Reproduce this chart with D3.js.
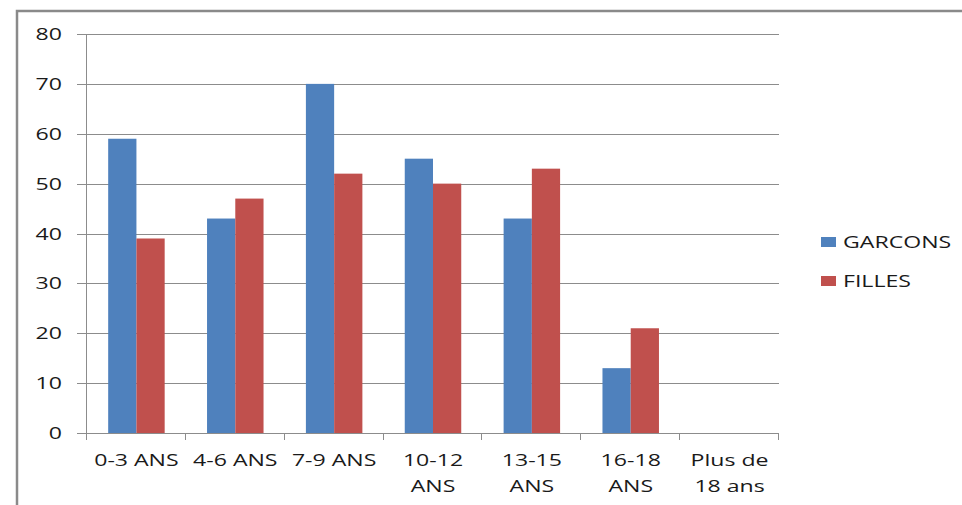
<!DOCTYPE html>
<html><head><meta charset="utf-8">
<script src="https://cdn.jsdelivr.net/npm/d3@7"></script>
<style>body{margin:0;background:#fff;}svg{display:block;font-family:"Open Sans",sans-serif;}</style>
</head><body>
<svg id="c" width="962" height="505"></svg>
<script>
const categories = ["0-3 ANS","4-6 ANS","7-9 ANS","10-12 ANS","13-15 ANS","16-18 ANS","Plus de 18 ans"];
const garcons = [59,43,70,55,43,13,0];
const filles  = [39,47,52,50,53,21,0];
const seriesNames = ["GARCONS","FILLES"];
const seriesColors = ["#4F81BD","#C0504D"];
const yTicks = [0,10,20,30,40,50,60,70,80];

(function(){
const SX = 1.4, FS = 16.5;
const svg = d3.select("#c");
const pL = 87, pR = 779, pT = 34, pB = 433;

// outer border
svg.append("rect").attr("x",17).attr("y",11).attr("width",1000).attr("height",600)
  .attr("fill","none").attr("stroke","#8a8a8a").attr("stroke-width",2.5);

const x = d3.scaleBand().domain(categories).range([pL,pR]).paddingInner(0).paddingOuter(0);
const bw = x.bandwidth()/3.5;
const y = d3.scaleLinear().domain([0,80]).range([pB,pT]);

// gridlines
svg.append("g").selectAll("line").data(yTicks).join("line")
  .attr("x1",pL-10).attr("x2",pR).attr("y1",d=>Math.round(y(d))+0.5).attr("y2",d=>Math.round(y(d))+0.5)
  .attr("stroke","#8c8c8c").attr("stroke-width",1);
// y axis line
svg.append("line").attr("x1",pL-0.5).attr("x2",pL-0.5).attr("y1",pT).attr("y2",pB+1)
  .attr("stroke","#8c8c8c");

function stext(g, px, py, str, anchor){
  const gg = g.append("g").attr("transform",`translate(${px},${py}) scale(${SX},1)`);
  return gg.append("text").attr("text-anchor",anchor||"start").attr("font-size",FS).attr("fill","#1a1a1a").text(str);
}
// y labels
const yl = svg.append("g");
yTicks.forEach(t=>{ stext(yl, 62, y(t)+6, String(t), "end"); });

// bars
const data = [garcons, filles];
const bars = svg.append("g");
data.forEach((vals,si)=>{
  bars.selectAll(null).data(vals).join("rect")
    .attr("x",(d,i)=>x(categories[i]) + bw*0.75 + si*bw)
    .attr("width",bw)
    .attr("y",d=>y(d))
    .attr("height",d=>y(0)-y(d))
    .attr("fill",seriesColors[si]);
});

// x axis ticks
const bounds = categories.map(c=>x(c)).concat([pR]);
svg.append("g").selectAll("line").data(bounds).join("line")
  .attr("x1",d=>Math.round(d)-0.5).attr("x2",d=>Math.round(d)-0.5).attr("y1",pB).attr("y2",pB+7)
  .attr("stroke","#8c8c8c");
svg.append("line").attr("x1",pL).attr("x2",pR).attr("y1",pB+0.5).attr("y2",pB+0.5).attr("stroke","#8c8c8c");

// x labels with wrapping
const xl = svg.append("g");
categories.forEach(c=>{
  const cx = x(c)+x.bandwidth()/2;
  const t = stext(xl, cx, 466, c, "middle");
  const w = t.node().getComputedTextLength()*SX;
  if (w > x.bandwidth()*0.95) {
    t.node().parentNode.remove();
    const words = c.split(" ");
    let lines;
    if (words.length===2) lines = [words[0], words[1]];
    else lines = [words.slice(0,2).join(" "), words.slice(2).join(" ")];
    lines.forEach((ln,k)=> stext(xl, cx, 466+26*k, ln, "middle"));
  }
});

// legend
const lg = svg.append("g");
seriesNames.forEach((n,i)=>{
  const ly = 237 + i*39;
  lg.append("rect").attr("x",821).attr("y",ly).attr("width",15).attr("height",10).attr("fill",seriesColors[i]);
  stext(lg, 843, ly+11, n, "start");
});
})();
</script>
</body></html>
